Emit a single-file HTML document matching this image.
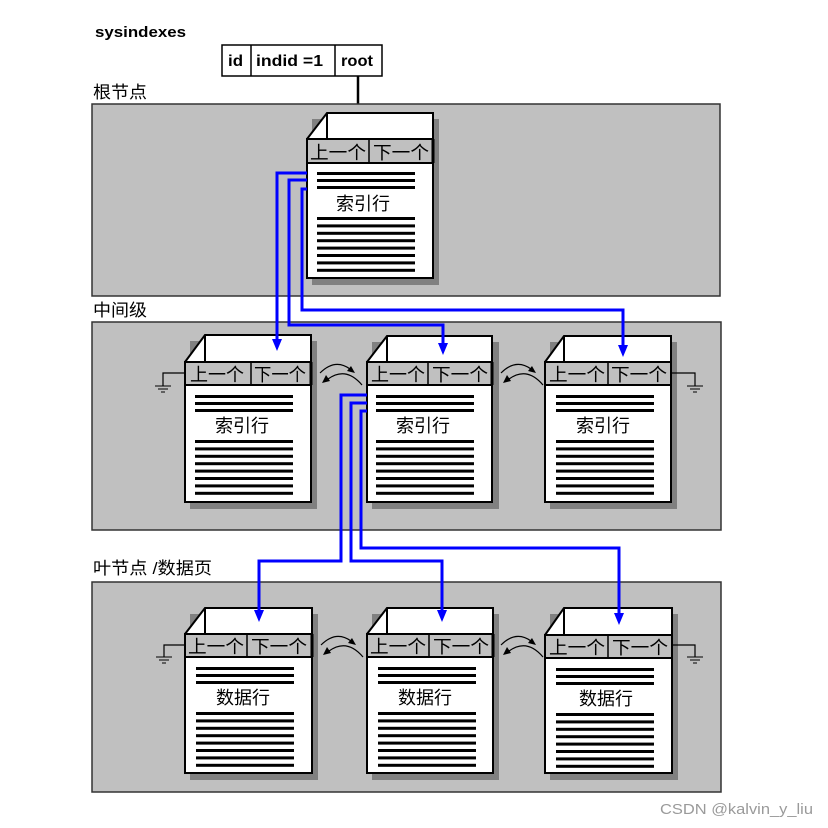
<!DOCTYPE html>
<html><head><meta charset="utf-8"><style>
html,body{margin:0;padding:0;background:#fff;}
svg{display:block;}
.cj{font-family:"Liberation Sans","Noto Sans CJK SC",sans-serif;}
</style></head><body>
<svg width="828" height="828" viewBox="0 0 828 828" xmlns="http://www.w3.org/2000/svg">
<defs>
<g id="lines">
 <rect x="0" y="0" width="98" height="3"/>
 <rect x="0" y="7" width="98" height="3"/>
 <rect x="0" y="14" width="98" height="3"/>
 <rect x="0" y="45" width="98" height="3"/>
 <rect x="0" y="52.4" width="98" height="3"/>
 <rect x="0" y="59.8" width="98" height="3"/>
 <rect x="0" y="67.2" width="98" height="3"/>
 <rect x="0" y="74.6" width="98" height="3"/>
 <rect x="0" y="82" width="98" height="3"/>
 <rect x="0" y="89.4" width="98" height="3"/>
 <rect x="0" y="96.8" width="98" height="3"/>
</g>
<g id="arcs" fill="none" stroke="#000" stroke-width="1.2">
 <path d="M0,10 Q15,-5 30,6"/>
 <polygon points="35,10 27,8 31,3" fill="#000" stroke="none"/>
 <path d="M42,22 Q26,3 8,16"/>
 <polygon points="2,20 6,12 10,18" fill="#000" stroke="none"/>
</g>
<g id="gnd" stroke="#000" stroke-width="1">
 <line x1="-8" y1="0" x2="8" y2="0"/>
 <line x1="-5" y1="3" x2="5" y2="3"/>
 <line x1="-2" y1="6" x2="2" y2="6"/>
</g>
</defs>

<!-- title -->
<text x="95" y="37" font-family="Liberation Sans, sans-serif" font-weight="bold" font-size="15" textLength="91" lengthAdjust="spacingAndGlyphs">sysindexes</text>
<rect x="222" y="45" width="160" height="31" fill="#fff" stroke="#000" stroke-width="1.5"/>
<line x1="251" y1="45" x2="251" y2="76" stroke="#000" stroke-width="1.5"/>
<line x1="335" y1="45" x2="335" y2="76" stroke="#000" stroke-width="1.5"/>
<g font-family="Liberation Sans, sans-serif" font-weight="bold" font-size="16">
<text x="228" y="66" textLength="15" lengthAdjust="spacingAndGlyphs">id</text>
<text x="256" y="66" textLength="67" lengthAdjust="spacingAndGlyphs">indid =1</text>
<text x="341" y="66" textLength="32" lengthAdjust="spacingAndGlyphs">root</text>
</g>
<line x1="358" y1="76" x2="358" y2="114" stroke="#000" stroke-width="2.5"/>

<!-- labels -->
<g class="cj" font-size="17" fill="#000">
<text x="93" y="98" textLength="54" lengthAdjust="spacingAndGlyphs">根节点</text>
<text x="93" y="316" textLength="54" lengthAdjust="spacingAndGlyphs">中间级</text>
<text x="93" y="574" textLength="119" lengthAdjust="spacingAndGlyphs">叶节点 /数据页</text>
</g>

<!-- panels -->
<rect x="92" y="104" width="628" height="192" fill="#c0c0c0" stroke="#333" stroke-width="1.5"/>
<rect x="92" y="322" width="629" height="208" fill="#c0c0c0" stroke="#333" stroke-width="1.5"/>
<rect x="92" y="582" width="629" height="210" fill="#c0c0c0" stroke="#333" stroke-width="1.5"/>

<!-- pages: function-like repeated groups -->
<!-- Root page L=307 T=113 HT=139 HB=163 B=278 div=369 -->
<g>
 <rect x="312" y="119" width="127" height="166" fill="#808080"/>
 <polygon points="327,113 433,113 433,278 307,278 307,139" fill="#fff" stroke="#000" stroke-width="2"/>
 <polyline points="327,113 327,139" fill="none" stroke="#000" stroke-width="2"/>
 <rect x="307" y="139" width="126" height="24" fill="#c0c0c0" stroke="#000" stroke-width="2"/>
 <line x1="433" y1="139" x2="433" y2="163" stroke="#000" stroke-width="3"/>
 <line x1="369" y1="139" x2="369" y2="163" stroke="#000" stroke-width="1.5"/>
 <use href="#lines" x="317" y="172"/>
 <g class="cj" font-size="18" text-anchor="middle">
  <text x="338" y="159" textLength="56" lengthAdjust="spacingAndGlyphs">上一个</text>
  <text x="401" y="159" textLength="56" lengthAdjust="spacingAndGlyphs">下一个</text>
  <text x="363" y="210">索引行</text>
 </g>
</g>

<!-- Middle page 1 L=185 T=335 HT=362 HB=385 B=502 div=251 -->
<g>
 <rect x="190" y="341" width="127" height="168" fill="#808080"/>
 <polygon points="205,335 311,335 311,502 185,502 185,362" fill="#fff" stroke="#000" stroke-width="2"/>
 <line x1="205" y1="335" x2="205" y2="362" stroke="#000" stroke-width="2"/>
 <rect x="185" y="362" width="126" height="23" fill="#c0c0c0" stroke="#000" stroke-width="2"/>
 <line x1="311" y1="362" x2="311" y2="385" stroke="#000" stroke-width="3"/>
 <line x1="251" y1="362" x2="251" y2="385" stroke="#000" stroke-width="1.5"/>
 <use href="#lines" x="195" y="395"/>
 <g class="cj" font-size="18" text-anchor="middle">
  <text x="217" y="381" textLength="54" lengthAdjust="spacingAndGlyphs">上一个</text>
  <text x="280" y="381" textLength="52" lengthAdjust="spacingAndGlyphs">下一个</text>
  <text x="242" y="432">索引行</text>
 </g>
</g>

<!-- Middle page 2 L=367 div=428 -->
<g>
 <rect x="372" y="342" width="127" height="167" fill="#808080"/>
 <polygon points="387,336 492,336 492,502 367,502 367,362" fill="#fff" stroke="#000" stroke-width="2"/>
 <line x1="387" y1="336" x2="387" y2="362" stroke="#000" stroke-width="2"/>
 <rect x="367" y="362" width="125" height="23" fill="#c0c0c0" stroke="#000" stroke-width="2"/>
 <line x1="492" y1="362" x2="492" y2="385" stroke="#000" stroke-width="3"/>
 <line x1="428" y1="362" x2="428" y2="385" stroke="#000" stroke-width="1.5"/>
 <use href="#lines" x="376" y="395"/>
 <g class="cj" font-size="18" text-anchor="middle">
  <text x="398" y="381" textLength="54" lengthAdjust="spacingAndGlyphs">上一个</text>
  <text x="460" y="381" textLength="56" lengthAdjust="spacingAndGlyphs">下一个</text>
  <text x="423" y="432">索引行</text>
 </g>
</g>

<!-- Middle page 3 L=545 div=608 -->
<g>
 <rect x="550" y="342" width="127" height="167" fill="#808080"/>
 <polygon points="564,336 671,336 671,502 545,502 545,362" fill="#fff" stroke="#000" stroke-width="2"/>
 <line x1="564" y1="336" x2="564" y2="362" stroke="#000" stroke-width="2"/>
 <rect x="545" y="362" width="126" height="23" fill="#c0c0c0" stroke="#000" stroke-width="2"/>
 <line x1="608" y1="362" x2="608" y2="385" stroke="#000" stroke-width="1.5"/>
 <use href="#lines" x="556" y="395"/>
 <g class="cj" font-size="18" text-anchor="middle">
  <text x="577" y="381" textLength="56" lengthAdjust="spacingAndGlyphs">上一个</text>
  <text x="639" y="381" textLength="56" lengthAdjust="spacingAndGlyphs">下一个</text>
  <text x="603" y="432">索引行</text>
 </g>
</g>

<!-- Leaf page 1 L=185 T=608 HT=634 HB=657 B=773 div=247 -->
<g>
 <rect x="190" y="614" width="128" height="166" fill="#808080"/>
 <polygon points="205,608 312,608 312,773 185,773 185,634" fill="#fff" stroke="#000" stroke-width="2"/>
 <line x1="205" y1="608" x2="205" y2="634" stroke="#000" stroke-width="2"/>
 <rect x="185" y="634" width="127" height="23" fill="#c0c0c0" stroke="#000" stroke-width="2"/>
 <line x1="312" y1="634" x2="312" y2="657" stroke="#000" stroke-width="3"/>
 <line x1="247" y1="634" x2="247" y2="657" stroke="#000" stroke-width="1.5"/>
 <use href="#lines" x="196" y="667"/>
 <g class="cj" font-size="18" text-anchor="middle">
  <text x="216" y="653" textLength="56" lengthAdjust="spacingAndGlyphs">上一个</text>
  <text x="279" y="653" textLength="56" lengthAdjust="spacingAndGlyphs">下一个</text>
  <text x="243" y="704">数据行</text>
 </g>
</g>

<!-- Leaf page 2 L=367 div=429 -->
<g>
 <rect x="372" y="614" width="127" height="166" fill="#808080"/>
 <polygon points="387,608 493,608 493,773 367,773 367,634" fill="#fff" stroke="#000" stroke-width="2"/>
 <line x1="387" y1="608" x2="387" y2="634" stroke="#000" stroke-width="2"/>
 <rect x="367" y="634" width="126" height="23" fill="#c0c0c0" stroke="#000" stroke-width="2"/>
 <line x1="493" y1="634" x2="493" y2="657" stroke="#000" stroke-width="3"/>
 <line x1="429" y1="634" x2="429" y2="657" stroke="#000" stroke-width="1.5"/>
 <use href="#lines" x="378" y="667"/>
 <g class="cj" font-size="18" text-anchor="middle">
  <text x="398" y="653" textLength="56" lengthAdjust="spacingAndGlyphs">上一个</text>
  <text x="461" y="653" textLength="56" lengthAdjust="spacingAndGlyphs">下一个</text>
  <text x="425" y="704">数据行</text>
 </g>
</g>

<!-- Leaf page 3 L=545 div=608 -->
<g>
 <rect x="550" y="614" width="128" height="166" fill="#808080"/>
 <polygon points="564,608 672,608 672,773 545,773 545,635" fill="#fff" stroke="#000" stroke-width="2"/>
 <line x1="564" y1="608" x2="564" y2="635" stroke="#000" stroke-width="2"/>
 <rect x="545" y="635" width="127" height="23" fill="#c0c0c0" stroke="#000" stroke-width="2"/>
 <line x1="608" y1="635" x2="608" y2="658" stroke="#000" stroke-width="1.5"/>
 <use href="#lines" x="556" y="668"/>
 <g class="cj" font-size="18" text-anchor="middle">
  <text x="577" y="654" textLength="56" lengthAdjust="spacingAndGlyphs">上一个</text>
  <text x="640" y="654" textLength="56" lengthAdjust="spacingAndGlyphs">下一个</text>
  <text x="606" y="705">数据行</text>
 </g>
</g>

<!-- ground symbols -->
<g fill="none" stroke="#000" stroke-width="1.2">
 <polyline points="185,373 163,373 163,386"/>
 <polyline points="671,373 695,373 695,386"/>
 <polyline points="185,645 164,645 164,657"/>
 <polyline points="672,645 695,645 695,657"/>
</g>
<use href="#gnd" x="163" y="386"/>
<use href="#gnd" x="695" y="386"/>
<use href="#gnd" x="164" y="657"/>
<use href="#gnd" x="695" y="657"/>

<!-- curved arrows -->
<use href="#arcs" x="320" y="363"/>
<use href="#arcs" x="501" y="363"/>
<use href="#arcs" x="321" y="635"/>
<use href="#arcs" x="501" y="635"/>

<!-- blue connectors -->
<g fill="none" stroke="#0000ff" stroke-width="3" stroke-linejoin="miter">
 <polyline points="307,173 277,173 277,341"/>
 <polyline points="307,180 289,180 289,325 443,325 443,345"/>
 <polyline points="307,189 302,189 302,310 623,310 623,347"/>
 <polyline points="367,395 341,395 341,561 259,561 259,612"/>
 <polyline points="367,403 351,403 351,561 442,561 442,612"/>
 <polyline points="367,411 361,411 361,548 619,548 619,615"/>
</g>
<g fill="#0000ff">
 <polygon points="272,339 282,339 277,351"/>
 <polygon points="438,343 448,343 443,355"/>
 <polygon points="618,345 628,345 623,357"/>
 <polygon points="254,610 264,610 259,622"/>
 <polygon points="437,610 447,610 442,622"/>
 <polygon points="614,613 624,613 619,625"/>
</g>

<!-- watermark -->
<text x="660" y="814" font-family="Liberation Sans, sans-serif" font-size="15" fill="#9a9a9a" textLength="153" lengthAdjust="spacingAndGlyphs">CSDN @kalvin_y_liu</text>
</svg>
</body></html>
